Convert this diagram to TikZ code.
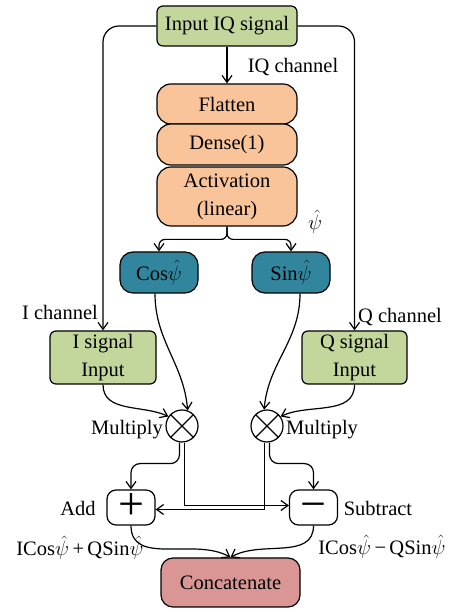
\documentclass[tikz,border=0pt]{standalone}
\usepackage{fontspec}
\setmainfont{Liberation Serif}
\usetikzlibrary{arrows.meta,positioning}
\definecolor{ink}{HTML}{000000}
\definecolor{sigc}{HTML}{C3D69B}
\definecolor{layc}{HTML}{F9C49A}
\definecolor{trigc}{HTML}{31859C}
\definecolor{catc}{HTML}{D99694}
\tikzset{
  blk/.style={draw=ink,line width=1.2pt,align=center,inner sep=0pt,font=\fontsize{20.5}{23}\selectfont},
  sig/.style={blk,fill=sigc,rounded corners=6pt},
  lay/.style={blk,fill=layc,rounded corners=14pt,minimum width=140pt},
  trig/.style={blk,fill=trigc,rounded corners=13pt,minimum width=78pt,minimum height=41pt},
  opbox/.style={blk,fill=white,rounded corners=9pt,minimum width=48pt,minimum height=35pt,
    font=\fontsize{46}{46}\selectfont,text height=23.3pt,text depth=0pt},
  mul/.style={circle,draw=ink,line width=1.2pt,fill=white,minimum size=32pt,inner sep=0pt},
  conn/.style={ink,line width=1.2pt,-{Straight Barb[length=7pt,width=10pt]}},
  lbl/.style={font=\fontsize{20.5}{23}\selectfont,inner sep=0pt},
}

\begin{document}
\begin{tikzpicture}[x=1pt,y=1pt]
  \useasboundingbox (0,0) rectangle (454,609);
  % ---------- input and layers ----------
  \node[sig,minimum width=140pt,minimum height=40pt] (inp) at (227,583) {Input IQ signal};
  \node[lay,minimum height=40pt] (flat) at (227,505) {Flatten};
  \node[lay,minimum height=41pt] (dense) at (227,464.5) {Dense(1)};
  \node[lay,minimum height=59pt] (act) at (227,412.5) {Activation\\[5pt](linear)};
  \node[trig] (cos) at (159,336.5) {Cos$\hat{\psi}$};
  \node[trig] (sin) at (291,336.5) {Sin$\hat{\psi}$};
  \node[sig,minimum width=106pt,minimum height=53pt] (isig) at (103,251.5) {I signal\\[5pt]Input};
  \node[sig,minimum width=105pt,minimum height=53pt] (qsig) at (354.5,251.5) {Q signal\\[5pt]Input};
  % ---------- operations ----------
  \node[mul] (mull) at (182,183) {};
  \node[mul] (mulr) at (267,183) {};
  \foreach \m in {mull,mulr}
    \draw[line width=1.2pt] (\m.north west) -- (\m.south east) (\m.north east) -- (\m.south west);
  \node[opbox] (add) at (131,101.5) {+};
  \node[opbox] (sub) at (313.5,101.5) {−};
  \node[blk,fill=catc,rounded corners=12pt,minimum width=139pt,minimum height=49pt] (cat) at (230.5,26.5) {Concatenate};
  % ---------- labels ----------
  \node[lbl] (iqlab) at (293,542) {IQ channel};
  \node[lbl] (psilab) at (315,387) {$\hat{\psi}$};
  \node[lbl] (ilab) at (60,297) {I channel};
  \node[lbl] (qlab) at (400,292) {Q channel};
  \node[lbl,anchor=east] (mullab) at (163,179) {Multiply};
  \node[lbl,anchor=west] (mulrlab) at (286,179) {Multiply};
  \node[lbl] (addlab) at (78,101) {Add};
  \node[lbl] (sublab) at (378,101) {Subtract};
  \node[lbl] (sumlab) at (80,61) {ICos$\hat{\psi}$\,+\,QSin$\hat{\psi}$};
  \node[lbl] (difflab) at (382,62) {ICos$\hat{\psi}$\,−\,QSin$\hat{\psi}$};
  % ---------- connectors ----------
  \draw[conn] (inp) -- (flat);
  \draw[conn,rounded corners=16pt] (inp.west) -| (isig.north);
  \draw[conn,rounded corners=16pt] (inp.east) -| (qsig.north);
  \draw[conn,rounded corners=6pt] (act.south) |- ([yshift=12pt]cos.north) -- (cos.north);
  \draw[conn,rounded corners=6pt] (act.south) |- ([yshift=12pt]sin.north) -- (sin.north);
  \draw[conn] ([xshift=-4pt]cos.south) to[out=-90,in=95] (mull.70);
  \draw[conn] ([xshift=9pt]sin.south) to[out=-90,in=85] (mulr.100);
  \draw[conn] (isig.south) to[out=-90,in=155] (mull.145);
  \draw[conn] (qsig.south) to[out=-90,in=25] (mulr.35);
  \draw[conn,rounded corners=9pt] ([xshift=-2.5pt]mull.south) -- ++(0,-21) -| (add.north);
  \draw[conn] ([xshift=2.5pt]mull.south) |- ([yshift=2pt]sub.west);
  \draw[conn] ([xshift=-2.5pt]mulr.south) |- ([yshift=-2pt]add.east);
  \draw[conn,rounded corners=9pt] ([xshift=2.5pt]mulr.south) -- ++(0,-21) -| (sub.north);
  \draw[conn] (add.south) to[out=-90,in=150] (cat.north);
  \draw[conn] (sub.south) to[out=-90,in=30] (cat.north);
\end{tikzpicture}
\end{document}
